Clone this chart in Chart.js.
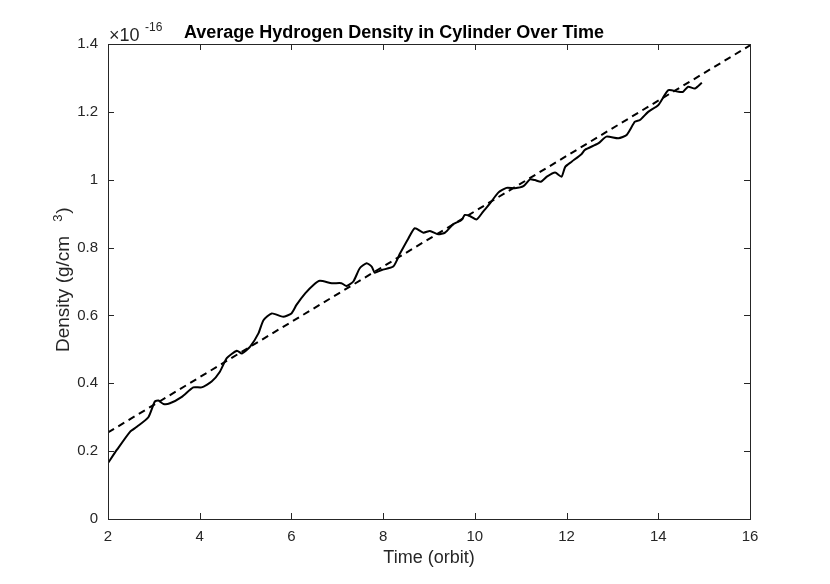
<!DOCTYPE html>
<html>
<head>
<meta charset="utf-8">
<script src="https://cdn.jsdelivr.net/npm/chart.js@4/dist/chart.umd.min.js"></script>
<style>
    html, body { margin: 0; padding: 0; background: #fff; }
    #wrap { width: 830px; height: 584px; position: relative; }
</style>
</head>
<body>
<div id="wrap"><canvas id="densityChart"></canvas></div>
<script>
// simulation output, density in units of 1e-16 g/cm^3
const times = [2.00, 2.20, 2.48, 2.63, 2.88, 3.02, 3.10, 3.21, 3.35, 3.61, 3.86, 4.04, 4.26, 4.44, 4.59, 4.81, 4.92,
    5.10, 5.28, 5.39, 5.57, 5.82, 6.00, 6.11, 6.30, 6.48, 6.62, 6.88, 7.09, 7.20, 7.35, 7.49, 7.64, 7.75, 7.82, 7.97,
    8.22, 8.37, 8.55, 8.69, 8.88, 9.02, 9.20, 9.35, 9.53, 9.71, 9.78, 9.89, 10.04, 10.18, 10.33, 10.51, 10.69, 10.87,
    11.06, 11.20, 11.31, 11.44, 11.57, 11.75, 11.89, 11.97, 12.11, 12.33, 12.40, 12.69, 12.87, 13.13, 13.31, 13.49,
    13.60, 13.78, 14.00, 14.22, 14.44, 14.54, 14.65, 14.80, 14.95];
const density = [0.165, 0.205, 0.257, 0.272, 0.300, 0.346, 0.349, 0.339, 0.341, 0.360, 0.388, 0.388, 0.405, 0.434, 0.474, 0.496, 0.488,
    0.508, 0.547, 0.586, 0.606, 0.596, 0.606, 0.631, 0.665, 0.690, 0.702, 0.695, 0.695, 0.687, 0.700, 0.739, 0.754, 0.744, 0.726, 0.734,
    0.744, 0.783, 0.827, 0.857, 0.844, 0.849, 0.839, 0.844, 0.869, 0.881, 0.896, 0.893, 0.883, 0.906, 0.930, 0.962, 0.976, 0.975,
    0.981, 1.001, 0.999, 0.994, 1.009, 1.021, 1.009, 1.038, 1.053, 1.076, 1.088, 1.107, 1.127, 1.122, 1.132, 1.171,
    1.176, 1.200, 1.220, 1.264, 1.259, 1.259, 1.274, 1.269, 1.286];
// linear fit
const fitTimes = [2, 16];
const fitDensity = [0.255, 1.396];
const xTicks = [2, 4, 6, 8, 10, 12, 14, 16];
const yTicks = [0, 0.2, 0.4, 0.6, 0.8, 1, 1.2, 1.4];

const FONT = '"Liberation Sans", Arial, Helvetica, sans-serif';
const AXIS = '#262626';

const frame = {
    id: 'frame',
    afterDraw(chart) {
        const { ctx, chartArea: a, scales } = chart;
        ctx.save();
        ctx.strokeStyle = AXIS;
        ctx.lineWidth = 1;
        ctx.strokeRect(Math.round(a.left) + 0.5, Math.round(a.top) + 0.5, Math.round(a.right - a.left), Math.round(a.bottom - a.top));
        const tl = 6;
        ctx.beginPath();
        xTicks.forEach(v => {
            const px = Math.round(scales.x.getPixelForValue(v)) + 0.5;
            ctx.moveTo(px, a.bottom); ctx.lineTo(px, a.bottom - tl);
            ctx.moveTo(px, a.top); ctx.lineTo(px, a.top + tl);
        });
        yTicks.forEach(v => {
            const py = Math.round(scales.y.getPixelForValue(v)) + 0.5;
            ctx.moveTo(a.left, py); ctx.lineTo(a.left + tl, py);
            ctx.moveTo(a.right, py); ctx.lineTo(a.right - tl, py);
        });
        ctx.stroke();

        // title
        ctx.fillStyle = '#000';
        ctx.font = 'bold 18px ' + FONT;
        ctx.textAlign = 'center';
        ctx.textBaseline = 'alphabetic';
        ctx.fillText('Average Hydrogen Density in Cylinder Over Time', 394, 38);

        // exponent
        ctx.fillStyle = AXIS;
        ctx.textAlign = 'left';
        ctx.font = '18px ' + FONT;
        ctx.fillText('\u00d710', 109, 41);
        ctx.font = '12px ' + FONT;
        ctx.fillText('-16', 145, 31);

        // y label
        ctx.translate(69, 352);
        ctx.rotate(-Math.PI / 2);
        ctx.font = '19px ' + FONT;
        ctx.fillText('Density (g/cm', 0, 0);
        const w = ctx.measureText('Density (g/cm').width;
        ctx.font = '13px ' + FONT;
        ctx.fillText('3', w + 14, -7);
        ctx.font = '19px ' + FONT;
        ctx.fillText(')', w + 22, 0);
        ctx.restore();
    }
};

new Chart(document.getElementById('densityChart'), {
    type: 'line',
    data: {
        datasets: [
            {
                label: 'Average density',
                data: times.map((t, i) => ({ x: t, y: density[i] })),
                borderColor: '#000',
                borderWidth: 2,
                pointRadius: 0,
                tension: 0.2
            },
            {
                label: 'Linear fit',
                data: fitTimes.map((t, i) => ({ x: t, y: fitDensity[i] })),
                borderColor: '#000',
                borderWidth: 2,
                borderDash: [7, 5],
                pointRadius: 0
            }
        ]
    },
    options: {
        responsive: true,
        maintainAspectRatio: false,
        animation: false,
        layout: { padding: { left: 0, right: 80, top: 44, bottom: 0 } },
        plugins: { legend: { display: false }, tooltip: { enabled: false }, title: { display: false } },
        scales: {
            x: {
                type: 'linear',
                min: 2, max: 16,
                afterBuildTicks: s => { s.ticks = xTicks.map(v => ({ value: v })); },
                afterFit: s => { s.height = 65; },
                grid: { display: false, drawTicks: false },
                border: { display: false },
                ticks: { padding: 9, color: AXIS, font: { family: FONT, size: 15 } },
                title: { display: true, text: 'Time (orbit)', color: AXIS, font: { family: FONT, size: 18 }, padding: { top: 0, bottom: 15 } }
            },
            y: {
                min: 0, max: 1.4,
                afterBuildTicks: s => { s.ticks = yTicks.map(v => ({ value: v })); },
                afterFit: s => { s.width = 108; },
                grid: { display: false, drawTicks: false },
                border: { display: false },
                ticks: { padding: 10, color: AXIS, font: { family: FONT, size: 15 }, callback: v => String(+v.toFixed(1)) }
            }
        }
    },
    plugins: [frame]
});
</script>
</body>
</html>
